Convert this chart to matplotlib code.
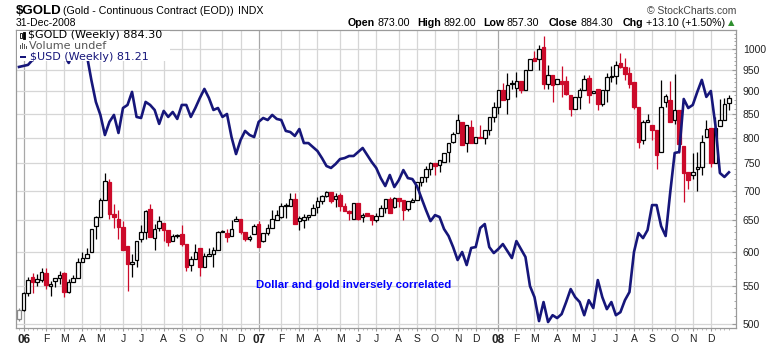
import numpy as np
import pandas as pd
import matplotlib
matplotlib.use("Agg")
import matplotlib.pyplot as plt
from matplotlib.patches import Rectangle
from matplotlib.ticker import FixedLocator, NullFormatter

plt.rcParams["font.family"] = ["Liberation Sans", "DejaVu Sans"]

# ---------------------------------------------------------------
# data (weekly)
# ---------------------------------------------------------------
first_week = "2005-12-26"

gold_open = [506, 518, 541, 562, 555, 558, 569, 550, 557, 561,
             568, 542, 555, 561, 584, 590, 600, 640, 655, 684,
             715, 659, 652, 638, 609, 582, 587, 619, 631, 668,
             621, 637, 645, 633, 616, 624, 628, 612, 580, 589,
             606, 577, 593, 596, 602, 631, 629, 624, 648, 652,
             631, 620, 627, 643, 616, 629, 637, 650, 654, 673,
             673, 685, 648, 650, 654, 658, 672, 681, 691, 697,
             685, 693, 673, 665, 651, 679, 654, 661, 658, 650,
             657, 669, 685, 672, 687, 684, 668, 680, 684, 716,
             725, 740, 750, 747, 753, 771, 791, 810, 833, 789,
             822, 789, 802, 800, 816, 842, 865, 902, 883, 919,
             908, 924, 903, 949, 977, 975, 1006, 917, 937, 917,
             924, 923, 891, 859, 886, 902, 929, 895, 905, 871,
             902, 932, 935, 967, 957, 941, 921, 865, 796, 833,
             826, 815, 772, 876, 880, 836, 858, 784, 734, 728,
             740, 743, 802, 820, 750, 823, 836, 873]
gold_high = [520, 542, 562, 569, 567, 576, 575, 557, 561, 572,
             570, 560, 565, 591, 600, 606, 636, 657, 687, 731,
             721, 676, 667, 648, 609, 597, 617, 642, 667, 677,
             644, 657, 645, 633, 627, 627, 642, 612, 593, 611,
             606, 598, 606, 607, 632, 633, 636, 649, 656, 652,
             631, 625, 643, 648, 629, 644, 667, 667, 678, 678,
             695, 695, 656, 659, 658, 677, 689, 692, 700, 697,
             695, 696, 678, 667, 679, 679, 661, 661, 658, 661,
             675, 685, 688, 689, 687, 684, 682, 687, 716, 725,
             744, 753, 750, 757, 770, 790, 812, 850, 833, 826,
             837, 802, 825, 816, 842, 876, 902, 919, 942, 925,
             945, 924, 949, 975, 995, 1011, 1034, 961, 937, 927,
             958, 935, 891, 887, 906, 937, 937, 900, 905, 902,
             941, 958, 971, 990, 977, 957, 921, 865, 836, 850,
             826, 815, 926, 894, 922, 939, 858, 784, 734, 769,
             771, 805, 836, 820, 843, 882, 884, 892]
gold_low = [504, 517, 537, 541, 550, 555, 546, 536, 548, 553,
            535, 541, 555, 561, 584, 590, 600, 619, 655, 684,
            651, 637, 619, 602, 543, 562, 577, 615, 619, 622,
            603, 632, 617, 608, 616, 621, 608, 571, 572, 589,
            564, 577, 593, 577, 602, 630, 615, 624, 648, 628,
            617, 616, 627, 607, 614, 626, 637, 650, 653, 653,
            673, 644, 634, 637, 650, 658, 661, 676, 689, 678,
            672, 664, 664, 650, 651, 650, 647, 656, 642, 647,
            657, 662, 661, 670, 672, 650, 664, 680, 684, 708,
            716, 728, 728, 734, 753, 752, 789, 810, 785, 772,
            789, 789, 800, 788, 806, 833, 850, 880, 850, 905,
            887, 895, 903, 949, 972, 949, 904, 904, 876, 917,
            887, 891, 845, 859, 859, 902, 873, 895, 857, 867,
            875, 920, 917, 953, 925, 906, 861, 779, 788, 833,
            795, 740, 772, 865, 833, 829, 769, 680, 703, 720,
            700, 728, 802, 743, 750, 823, 836, 857.3]
gold_close = [518, 541, 558, 556, 560, 570, 552, 553, 561, 566,
              542, 555, 561, 584, 591, 597, 636, 655, 684, 717,
              660, 655, 638, 602, 582, 585, 617, 631, 664, 622,
              635, 648, 633, 615, 624, 625, 612, 577, 589, 599,
              577, 593, 596, 602, 631, 632, 623, 636, 652, 631,
              619, 623, 640, 607, 629, 637, 651, 658, 673, 675,
              686, 644, 653, 654, 658, 670, 681, 691, 698, 681,
              691, 673, 664, 661, 679, 651, 658, 657, 650, 656,
              669, 685, 661, 687, 681, 667, 681, 684, 716, 725,
              740, 750, 745, 756, 769, 789, 808, 836, 785, 826,
              789, 802, 800, 816, 842, 865, 902, 880, 913, 916,
              922, 903, 949, 975, 972, 1001, 917, 937, 913, 927,
              916, 894, 859, 887, 902, 927, 891, 900, 871, 902,
              933, 935, 961, 957, 939, 917, 865, 792, 833, 836,
              815, 765, 865, 888, 833, 858, 788, 731, 718, 734,
              743, 792, 818, 751, 819, 837, 871, 884.3]

usd_close = [89.07, 89.15, 89.23, 89.62, 90.56, 90.80, 91.05, 90.72, 90.88, 90.40,
             90.01, 89.38, 90.24, 90.56, 90.40, 90.01, 88.06, 86.38, 85.40, 83.91,
             84.88, 85.40, 84.06, 85.92, 86.15, 87.14, 85.25, 85.17, 86.38, 86.15,
             85.77, 84.73, 85.70, 85.25, 85.62, 85.10, 86.15, 86.15, 85.25, 85.92,
             86.68, 87.37, 86.68, 85.77, 85.92, 85.25, 85.47, 83.76, 82.52, 83.54,
             84.21, 83.91, 83.76, 84.88, 85.17, 85.02, 85.40, 85.10, 85.02, 84.21,
             84.13, 83.84, 84.35, 83.32, 83.32, 83.03, 82.74, 82.23, 81.66, 81.52,
             81.80, 82.16, 82.23, 82.38, 82.38, 82.67, 82.96, 82.45, 81.95, 81.52,
             80.80, 80.24, 81.02, 80.17, 80.66, 81.37, 80.80, 80.73, 80.24, 79.40,
             78.57, 77.81, 78.22, 78.09, 77.27, 76.80, 76.06, 75.20, 75.73, 74.87,
             76.00, 76.06, 77.34, 77.61, 76.06, 75.66, 75.93, 76.26, 75.79, 75.33,
             76.46, 75.93, 75.40, 73.50, 72.79, 71.28, 72.48, 71.22, 71.65, 71.47,
             71.72, 72.48, 73.31, 72.79, 72.48, 71.65, 72.60, 72.10, 73.89, 72.79,
             72.03, 72.48, 71.65, 71.84, 72.60, 73.12, 75.73, 77.00, 76.66, 77.20,
             78.91, 78.91, 77.47, 76.80, 79.75, 82.60, 82.67, 86.60, 85.92, 86.15,
             87.14, 88.06, 86.76, 87.21, 84.65, 81.16, 80.88, 81.21]

price_ticks = [500, 550, 600, 650, 700, 750, 800, 850, 900, 950, 1000]
month_letters = ["J", "F", "M", "A", "M", "J", "J", "A", "S", "O", "N", "D"]

header_stats = [("Open", "873.00", 348), ("High", "892.00", 417),
                ("Low", "857.30", 483), ("Close", "884.30", 549),
                ("Chg", "+13.10 (+1.50%)", 623)]

# ---------------------------------------------------------------
# layout (pixel based, 780 x 345)
# ---------------------------------------------------------------
W, H = 780, 345
L, R, T, B = 16, 736, 30, 328
RED = "#cc0a2a"
NAVY = "#16167a"
GRID = "#d6d6d6"


def fx(px):
    return px / W


def fy(py):
    return 1 - py / H


fig = plt.figure(figsize=(W / 100, H / 100), dpi=100)
fig.patch.set_facecolor("white")
ax = fig.add_axes([fx(L), fy(B), (R - L) / W, (B - T) / H])

n = len(gold_close)
xs = np.arange(n)
weeks = pd.date_range(first_week, periods=n, freq="7D")

ax.set_yscale("log")
ax.set_ylim(494.7, 1049.9)
ax.set_xlim(-0.66, 158.56)

# month grid at first bar of each month
month_pos, month_lab, year_pos = [], [], []
for i in range(1, n):
    if weeks[i].month != weeks[i - 1].month:
        month_pos.append(i)
        if weeks[i].month == 1:
            month_lab.append(weeks[i].strftime("%y"))
            year_pos.append(i)
        else:
            month_lab.append(month_letters[weeks[i].month - 1])

for p in month_pos:
    ax.axvline(p, color="#a8a8a8" if p in year_pos else GRID, lw=0.9, zorder=0)
for p in price_ticks:
    ax.axhline(p, color=GRID, lw=0.9, zorder=0)

# candles (StockCharts style: colour vs prev close, fill vs open)
for i in range(n):
    o, h, lo, c = gold_open[i], gold_high[i], gold_low[i], gold_close[i]
    if i == 0:
        col = "#8a8a8a"
    else:
        col = "black" if c >= gold_close[i - 1] else RED
    face = "white" if c >= o else col
    ax.vlines(i, lo, h, color=col, lw=0.9, zorder=2)
    ax.bar(i, max(o, c) - min(o, c), bottom=min(o, c), width=0.78,
           facecolor=face, edgecolor=col, linewidth=0.9, zorder=3)

# dollar overlay on its own (hidden) log scale
ax2 = ax.twinx()
ax2.set_yscale("log")
ax2.set_ylim(70.85, 92.0)
ax2.plot(xs, usd_close, color=NAVY, lw=1.9, solid_joinstyle="round", zorder=4)
ax2.set_yticks([])
ax2.yaxis.set_minor_locator(FixedLocator([]))
for s in ax2.spines.values():
    s.set_visible(False)

# axes styling
for s in ax.spines.values():
    s.set_color("#9a9a9a")
    s.set_linewidth(0.9)

ax.yaxis.tick_right()
ax.yaxis.set_major_locator(FixedLocator(price_ticks))
ax.yaxis.set_minor_locator(FixedLocator(list(range(500, 1050, 10))))
ax.yaxis.set_minor_formatter(NullFormatter())
ax.set_yticklabels([str(p) for p in price_ticks])
ax.tick_params(axis="y", which="major", direction="in", length=3, pad=5,
               labelsize=7.5, color="#9a9a9a", labelcolor="#222222")
ax.tick_params(axis="y", which="minor", direction="in", length=1.5,
               color="#9a9a9a")

ax.xaxis.set_major_locator(FixedLocator(month_pos))
ax.xaxis.set_minor_locator(FixedLocator(list(xs)))
ax.xaxis.set_minor_formatter(NullFormatter())
ax.set_xticklabels(month_lab)
ax.tick_params(axis="x", which="major", direction="out", length=2, pad=2,
               labelsize=7.5, color="#9a9a9a", labelcolor="#222222")
ax.tick_params(axis="x", which="minor", direction="out", length=1.5,
               color="#b0b0b0")
for lab, txt in zip(ax.get_xticklabels(), month_lab):
    if txt.isdigit():
        lab.set_fontweight("bold")
        lab.set_fontsize(8.5)

# annotation
ax.text(52.4, 551.5, "Dollar and gold inversely correlated", color="#0000ff",
        fontsize=8.2, fontweight="bold", ha="left", va="center", zorder=6)

# legend block (white background hides the line behind it)
fig.add_artist(Rectangle((fx(17), fy(60.5)), (170 - 17) / W, (60.5 - 31) / H,
                         transform=fig.transFigure, facecolor="white",
                         edgecolor="none", zorder=5))
leg_font = ["DejaVu Sans"]
fig.text(fx(28), fy(35.3), "$GOLD (Weekly) 884.30", fontsize=8,
         family=leg_font, va="center", color="black", zorder=6)
fig.text(fx(29), fy(46.3), "Volume undef", fontsize=8, family=leg_font,
         va="center", color="#555555", zorder=6)
fig.text(fx(30.5), fy(56.5), "$USD (Weekly) 81.21", fontsize=8,
         family=leg_font, va="center", color=NAVY, zorder=6)
# tiny legend icons
for xi, (y0, y1, filled) in zip([19.5, 23], [(33, 38, False), (32, 39, True)]):
    fig.add_artist(Rectangle((fx(xi), fy(y1)), 2 / W, (y1 - y0) / H,
                             transform=fig.transFigure, facecolor="black" if filled else "white",
                             edgecolor="black", lw=0.6, zorder=6))
for xi, hgt in zip([20, 22, 24, 26], [4, 6, 5, 3]):
    fig.add_artist(Rectangle((fx(xi), fy(49)), 1.2 / W, hgt / H,
                             transform=fig.transFigure, facecolor="#555555",
                             edgecolor="none", zorder=6))
fig.add_artist(Rectangle((fx(20), fy(57.5)), 6 / W, 2 / H,
                         transform=fig.transFigure, facecolor=NAVY,
                         edgecolor="none", zorder=6))

# header
fig.text(fx(16), fy(10.5), "$GOLD", fontsize=9.5, fontweight="bold", va="center")
fig.text(fx(63), fy(10.5), "(Gold - Continuous Contract (EOD))", fontsize=7.7,
         va="center")
fig.text(fx(238), fy(10.5), "INDX", fontsize=7.7, va="center")
fig.text(fx(16), fy(23), "31-Dec-2008", fontsize=7.5, va="center")
fig.text(fx(647), fy(10.5), "\u00a9 StockCharts.com", fontsize=7.5,
         va="center", color="#444444")

for label, value, px in header_stats:
    t = fig.text(fx(px), fy(23), label, fontsize=7.7, fontweight="bold",
                 va="center")
    fig.canvas.draw()
    bb = t.get_window_extent()
    fig.text(bb.x1 / W + 2.5 / W, fy(23), value, fontsize=7.7, va="center")
fig.text(fx(728), fy(23), "\u25b2", fontsize=6, va="center",
         color="#2f8f2f", family=["DejaVu Sans"])

fig.savefig("out.png", dpi=100, facecolor="white")
